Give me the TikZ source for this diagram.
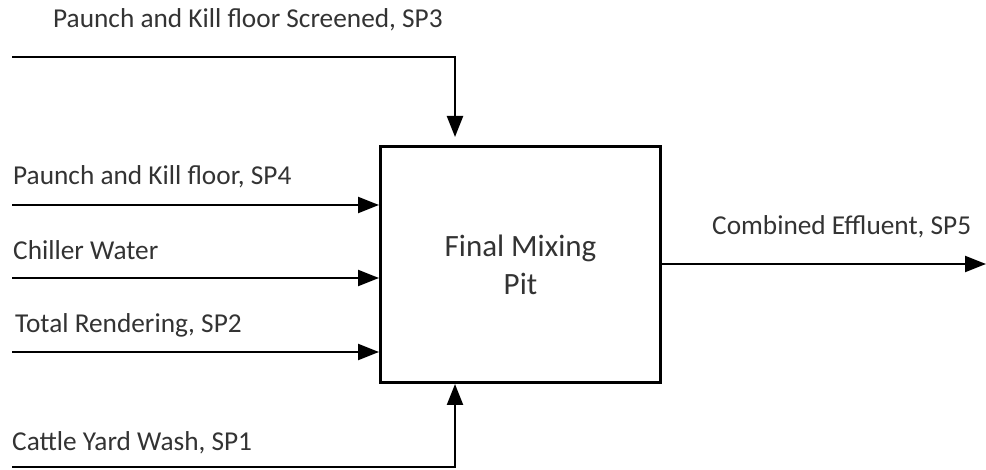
\documentclass[tikz,border=0pt]{standalone}
\usepackage{fontspec}
\setmainfont{Carlito}
\usetikzlibrary{arrows.meta}
\definecolor{txt}{HTML}{333333}
\tikzset{
  flow/.style={line width=2.2pt,-{Triangle[length=21pt,width=16pt]}},
  lbl/.style={anchor=base west,inner sep=0pt,text=txt,font=\fontsize{27.3}{32}\selectfont},
  pit/.style={draw,line width=3pt,minimum width=280pt,minimum height=236pt,inner sep=0pt,align=center,text=txt,font=\fontsize{31}{38}\selectfont}
}
\begin{document}
\begin{tikzpicture}[x=1pt,y=-1pt]
\useasboundingbox (0,0) rectangle (986,470);
\node[pit] (box) at (520.5,264.5) {Final Mixing\\Pit};
% labels
\node[lbl] (l3) at (53,28) {Paunch and Kill floor Screened, SP3};
\node[lbl] (l4) at (13,185) {Paunch and Kill floor, SP4};
\node[lbl] (lc) at (13,260) {Chiller Water};
\node[lbl] (l2) at (15,333) {Total Rendering, SP2};
\node[lbl] (l1) at (12,450) {Cattle Yard Wash, SP1};
\node[lbl] (l5) at (712,235) {Combined Effluent, SP5};
% coordinates
\coordinate (s3) at (12,57);
\coordinate (c3) at (455,57);
\coordinate (t3) at (455,137);
\coordinate (s4) at (12,205);
\coordinate (sc) at (12,278);
\coordinate (s2) at (12,352);
\coordinate (s1) at (12,467);
\coordinate (c1) at (455,467);
\coordinate (e5) at (986,264);
% connectors
\draw[flow] (s3) -- (c3) -- (t3);
\draw[flow] (s4) -- (s4 -| box.west);
\draw[flow] (sc) -- (sc -| box.west);
\draw[flow] (s2) -- (s2 -| box.west);
\draw[flow] (s1) -- (c1) -- (c1 |- box.south);
\draw[flow] (box.east |- e5) -- (e5);
\end{tikzpicture}
\end{document}
